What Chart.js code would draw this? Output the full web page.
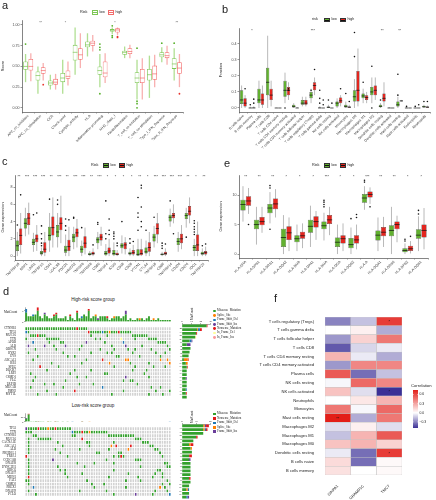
<!DOCTYPE html>
<html>
<head>
<meta charset="utf-8">
<script src="https://cdn.jsdelivr.net/npm/chart.js@4.4.0/dist/chart.umd.min.js"></script>
<style>
body{margin:0;background:#fff;font-family:'Liberation Sans',Arial,sans-serif;}
#wrap{position:relative;width:436px;height:500px;overflow:hidden;background:#fff;}
canvas,.t,.k{position:absolute;}
.t{white-space:nowrap;color:#222;line-height:1;}
.k{box-sizing:border-box;}
</style>
</head>
<body>
<div id="wrap">
<canvas id="ca" width="218" height="145" style="left:0;top:0"></canvas>
<canvas id="cb" width="218" height="160" style="left:218px;top:0"></canvas>
<canvas id="cc" width="218" height="145" style="left:0;top:145px"></canvas>
<canvas id="ce" width="218" height="145" style="left:218px;top:145px"></canvas>
<canvas id="hiT" width="182" height="19" style="left:0;top:305px"></canvas>
<canvas id="hiG" width="182" height="75" style="left:0;top:324px"></canvas>
<canvas id="hiC" width="32" height="94" style="left:180px;top:305px"></canvas>
<canvas id="loT" width="182" height="13" style="left:0;top:411px"></canvas>
<canvas id="loG" width="182" height="75" style="left:0;top:424px"></canvas>
<canvas id="loC" width="32" height="88" style="left:180px;top:411px"></canvas>
<canvas id="cf" width="218" height="210" style="left:218px;top:290px"></canvas>
</div>
<script>
// ---------- a: immune function scores ----------
const aLabels = ['APC_co_inhibition','APC_co_stimulation','CCR','Check-point','Cytolytic_activity','HLA','Inflammation-promoting','MHC_class_I','Parainflammation','T_cell_co-inhibition','T_cell_co-stimulation','Type_I_IFN_Reponse','Type_II_IFN_Reponse'];
// [min, q1, median, q3, max]
const aLow = [[0.31,0.46,0.50,0.56,0.65],[0.17,0.33,0.39,0.44,0.50],[0.22,0.27,0.30,0.33,0.40],[0.17,0.31,0.36,0.42,0.58],[0.40,0.57,0.67,0.76,0.97],[0.62,0.73,0.76,0.80,0.90],[0.25,0.40,0.45,0.50,0.65],[0.89,0.92,0.93,0.95,0.97],[0.60,0.64,0.67,0.69,0.74],[0.10,0.30,0.36,0.43,0.58],[0.12,0.33,0.40,0.47,0.63],[0.55,0.61,0.64,0.67,0.73],[0.33,0.47,0.53,0.60,0.72]];
const aHigh = [[0.32,0.45,0.50,0.59,0.66],[0.33,0.41,0.45,0.49,0.54],[0.22,0.28,0.31,0.35,0.41],[0.27,0.35,0.38,0.45,0.56],[0.48,0.58,0.64,0.72,0.90],[0.68,0.75,0.78,0.81,0.88],[0.30,0.37,0.42,0.56,0.66],[0.88,0.91,0.94,0.96,0.97],[0.60,0.65,0.68,0.72,0.76],[0.10,0.30,0.36,0.47,0.60],[0.25,0.34,0.41,0.51,0.64],[0.52,0.60,0.63,0.67,0.75],[0.25,0.41,0.48,0.55,0.65]];
const aLowOut = [[0.77],[],[],[],[],[],[0.17,0.70,0.73,0.77],[0.85,0.87,0.99],[],[0.0,0.05,0.08,0.72],[],[0.78],[0.78]];
const aHighOut = [[],[0.28],[],[],[],[],[],[0.85,0.86],[],[],[],[],[0.17]];
const aStars = ['','**','','*','','','','*','','','','','**'];
const aTicks = [0,0.25,0.5,0.75,1];

// ---------- b: immune cell fractions ----------
const bLabels = ['B cells naive','B cells memory','Plasma cells','T cells CD8','T cells CD4 naive','T cells CD4 memory resting','T cells CD4 memory activated','T cells follicular helper','T cells regulatory (Tregs)','T cells gamma delta','NK cells resting','NK cells activated','Monocytes','Macrophages M0','Macrophages M1','Macrophages M2','Dendritic cells resting','Dendritic cells activated','Mast cells resting','Mast cells activated','Eosinophils','Neutrophils'];
const bLow = [[0,0.025,0.05,0.11,0.14],[0,0,0,0.003,0.008],[0,0.03,0.05,0.12,0.17],[0,0.08,0.16,0.25,0.45],[0,0,0,0.001,0.002],[0.03,0.07,0.11,0.17,0.22],[0,0.003,0.01,0.02,0.03],[0.01,0.02,0.03,0.05,0.07],[0.03,0.06,0.08,0.10,0.12],[0,0,0,0.004,0.01],[0,0,0.004,0.01,0.02],[0,0.01,0.03,0.04,0.06],[0,0.003,0.01,0.02,0.04],[0,0.04,0.07,0.11,0.18],[0.03,0.06,0.075,0.09,0.12],[0.03,0.08,0.10,0.13,0.19],[0,0.005,0.01,0.02,0.03],[0,0,0,0.003,0.005],[0,0.01,0.02,0.04,0.07],[0,0,0,0,0.004],[0,0,0,0,0],[0,0.003,0.008,0.014,0.02]];
const bHigh = [[0,0.01,0.03,0.06,0.08],[0,0,0,0.004,0.01],[0,0.02,0.05,0.09,0.14],[0.01,0.05,0.08,0.12,0.17],[0,0,0,0,0],[0.05,0.08,0.11,0.13,0.16],[0,0,0,0.003,0.005],[0.01,0.02,0.03,0.05,0.07],[0.08,0.11,0.14,0.16,0.19],[0,0,0,0,0],[0,0,0,0,0],[0.01,0.03,0.045,0.065,0.08],[0,0,0.005,0.01,0.02],[0.01,0.04,0.11,0.23,0.37],[0.03,0.05,0.065,0.08,0.10],[0.05,0.08,0.11,0.14,0.19],[0.01,0.04,0.06,0.09,0.16],[0,0,0,0,0],[0.04,0.04,0.045,0.045,0.05],[0,0,0,0,0],[0,0,0,0,0],[0,0,0.005,0.01,0.015]];
const bLowOut = [[],[0.02],[],[],[],[0.0],[],[],[0.11],[0.11,0.06,0.03],[0.05],[],[0.09],[0.32,0.47],[0.16],[0.26,0.0],[0.05],[],[0.21,0.08],[0.01],[0.01],[0.04]];
const bHighOut = [[0.12],[0.03,0.055],[],[],[],[0.11,0.12],[],[],[0.24],[0.05,0.02],[0.03],[0.12],[0.04],[],[],[],[],[],[],[],[0.02],[0.04]];
const bStars = ['','*','','','','','','','***','','','','','','','','**','','**','','',''];
const bTicks = [0,0.1,0.2,0.3,0.4];

// ---------- c: immune checkpoint genes ----------
const cLabels = ['TNFRSF18','NRP1','LAIR1','TNFSF15','CD44','LGALS9','PDCD1','HAVCR2','TNFSF9','TNFRSF8','CD86','TNFSF4','ICOS','CD48','CD28','VTCN1','CTLA4','TNFSF18','CD80','TNFRSF14','CD200','CD276','IDO1','TNFRSF25'];
const cLow = [[0,0.6,1.2,1.8,2.8],[2.3,3.2,3.8,4.4,5.6],[0.5,1.3,1.6,2.0,2.7],[0,0.2,0.35,0.6,1.0],[0.5,1.8,2.4,3.4,5.0],[1.0,2.2,2.8,3.6,5.0],[0,0.4,0.7,1.2,2.5],[0.8,1.6,2.2,2.6,3.4],[0,0.4,0.8,1.2,1.8],[0,0.1,0.2,0.4,0.6],[0.8,1.5,1.9,2.2,2.8],[0,0.1,0.3,0.6,1.4],[0,0.1,0.3,0.7,1.6],[0.3,0.9,1.2,1.5,2.4],[0,0.15,0.3,0.5,0.9],[0,0.05,0.2,0.8,2.0],[0,0.3,0.5,1.0,1.8],[1.0,1.7,2.2,2.6,3.5],[0,0.1,0.2,0.3,0.5],[3.4,4.0,4.5,4.8,5.5],[0.5,1.3,1.7,2.1,2.8],[3.3,4.3,4.7,5.0,5.6],[0,0.6,1.0,1.3,2.0],[0,0.15,0.3,0.5,0.9]];
const cHigh = [[0.3,1.3,2.4,3.2,5.0],[2.5,3.6,4.4,5.0,6.2],[0.6,1.6,2.0,2.5,3.6],[0,0.4,0.8,1.6,2.8],[1.0,2.4,3.3,4.6,6.8],[1.5,3.0,3.8,4.5,7.0],[0,0.6,1.1,1.9,3.4],[1.0,2.2,2.7,3.2,4.3],[0.2,0.9,1.5,2.3,3.3],[0,0.15,0.3,0.5,0.9],[1.2,1.8,2.2,2.6,3.4],[0,0.3,0.6,1.0,2.0],[0,0.1,0.2,0.4,0.7],[0.2,0.8,1.3,1.6,2.2],[0,0.2,0.4,0.7,1.3],[0,0.1,0.3,0.8,2.0],[0,0.5,1.0,1.6,2.8],[1.5,2.5,3.2,3.8,5.0],[0,0.15,0.3,0.5,0.9],[3.8,4.4,4.7,5.0,6.0],[0.8,1.5,2.0,2.6,3.6],[3.8,4.7,5.2,5.8,6.8],[0,0.6,1.3,2.5,4.0],[0,0.2,0.4,0.6,1.1]];
const cLowOut = [[3.6],[],[4.8],[1.2,1.5,2.0,2.6,3.5],[6.6],[6.0,6.5],[3.0,3.5,4.3],[4.4,4.5],[3.3],[],[3.7,3.9],[2.0,2.6,6.4],[2.0,2.3,2.6,2.8],[4.0],[1.5,2.0],[3.0,4.5,5.0,6.8],[3.0],[4.5],[0.9,1.2,1.5],[6.4],[],[2.2],[2.5,2.8,3.1,3.4,3.8,4.1],[1.2]];
const cHighOut = [[7.1],[],[5.0],[],[],[],[4.2],[],[],[1.3],[],[2.5,3.0,4.3],[1.2,1.5],[],[1.7],[3.4,4.0,5.7,7.9,8.2],[],[],[1.4],[2.6],[],[],[],[1.4]];
const cStars = ['**','***','***','***','**','***','**','***','***','**','***','*','*','*','*','**','*','***','***','***','***','**','*','**'];
const cTicks = [0,2,4,6,8];

// ---------- e: HLA genes ----------
const eLabels = ['HLA-DRA','HLA-DPB1','HLA-DRB1','HLA-DQA2','HLA-DMB','HLA-DPA1','HLA-DMA','HLA-DOA','HLA-DQB2','HLA-A','HLA-DQA1','HLA-DRB6','HLA-DPB2','HLA-DQB1'];
const eLow = [[5.5,7.4,8.4,9.2,11.5],[1.6,4.2,5.0,5.8,8.0],[5.2,6.9,7.8,8.5,10.5],[0,1.2,2.8,4.3,6.6],[0.5,2.0,2.6,3.2,5.0],[1.2,3.6,4.7,5.8,8.2],[2.3,4.2,4.8,5.5,7.0],[0,1.2,2.0,2.8,5.0],[0,1.0,1.6,2.7,4.5],[7.5,8.7,9.5,10.2,11.5],[0.5,2.3,3.2,4.0,6.2],[0,3.0,4.0,4.9,8.0],[0,0.3,0.6,1.0,1.8],[0.5,2.6,3.2,4.2,6.4]];
const eHigh = [[6.8,8.2,9.0,9.8,11.2],[3.6,4.9,5.5,6.3,8.0],[6.2,7.6,8.5,9.4,11.0],[0.5,2.4,3.6,4.7,6.2],[1.0,2.6,3.1,3.8,5.2],[2.4,4.5,5.5,6.4,7.3],[3.2,5.1,5.8,6.6,8.0],[0.5,1.8,2.6,3.2,5.2],[0.8,1.8,2.4,3.2,5.0],[8.5,9.6,10.1,10.6,11.3],[1.2,3.0,3.7,4.6,6.3],[2.0,4.2,5.0,5.5,6.5],[0.1,0.5,0.9,1.4,2.2],[0.8,2.8,4.0,5.0,7.8]];
const eLowOut = [[],[],[11.2,11.6,4.2],[],[],[],[8.0,8.4,8.8,9.1],[],[6.0],[12.2,12.5],[],[],[2.2,2.5],[6.8,7.4]];
const eHighOut = [[5.0],[],[],[],[],[],[],[],[6.2,6.7],[8.0],[],[],[3.0],[]];
const eStars = ['**','**','**','*','*','*','***','*','*','***','**','**','*','*'];
const eTicks = [0,5,10];

// ---------- d: mutation landscape ----------
const mutNames = {M:'Missense_Mutation', S:'Splice_Site', D:'Frame_Shift_Del', I:'Frame_Shift_Ins', N:'Nonsense_Mutation', d:'In_Frame_Del', i:'In_Frame_Ins'};
const hiGenes = ['CTNNB1','TP53','MUC16','TTN','APOB','ALB','OBSCN','RYR2','EYS','ABCA13','RB1','SPEG','DOCK7','LRP2','CSMD1','FLG','LRP1B','MUC5B','FMN2','MYT1L'];
const hiRows = [
  'MMMMMMMMMM MMMMMMMMMM MMNMMMM... .......... .......... .......... ...',
  'DM........ .......... .......NMM MMMDMMSMMM NMMMMM.... .......... ...',
  '..MMMNMMM. .......... ........M. .....M.... ......MMMM MMM....... ...',
  'M........M MMMMM..... .......... M.M....... .d.....M.. ...MMMM... ...',
  '...D...... M....MM... ......I... ....M..... ..D....... .......MMM M..',
  '.I......I. ..M....I.. ....M..... .......M.. ...I...... M......... .M.',
  '....M..... ...M...... ...M...... ..M.....M. ....M..M.. ....M..... ..M',
  '.M........ ......M... ........M. .....M.M.. ......M... ......M... M..',
  '.....M.... ........M. .M........ .........M M........M ........M. ...',
  '...M...... .......... ......M... ...N...... ...SS..... ........S. .S.',
  '.......... .M........ ....M..... ......S... .....M.... ...M...... ..S',
  '......N... ....M..... .......... ........M. .......M.. .....M.... M..',
  '.........M .......... .M......M. .......... ......M... ..M....... ...',
  '..M....... .........M .......... ....MM.... .......... .M........ ...',
  '....M..... .......... ..M...M... .......... ...I...... ...M...... ...',
  '...M...... .......M.. .......... .......... ..M..MM... .......... ...',
  '........M. ..M....... ...M.....M .......... ........M. .......... ...',
  '..M....... ......M... .......... ...D...... .......... ....M...M. ...',
  '.........M .......... .N........ .......... ..M....... ......M... ..M',
  '.....M.... ...M...... .......... .......M.. .......... ...M.....M ...'
];
const hiTmbMis = [5,3,3,3,4,6,3,2,4,3, 2,2,3,4,2,2,2,3,1,3, 2,1,5,2,2,4,3,6,2,3, 3,1,3,3,3,2,1,2,2,3, 3,2,3,4,1,2,1,1,2,1, 2,1,2,3,1,1,1,2,1,1, 1,1,1];
const hiTmbOther = [2,0,0,1,0,2,0,0,1,0, 0,0,1,1,0,0,0,0,0,1, 0,0,1,0,1,0,0,1,0,0, 1,1,0,0,0,1,0,0,1,0, 0,0,0,2,0,0,0,0,0,1, 0,0,0,0,0,1,0,0,0,0, 0,0,0];
const hiTmbType = 'DNNDNNNNIN NNNNNNNNNN NNNNDNNNNN SINNNNNNSN NNNINNNNNS NNNNNSNNNN NNN';
const hiLegend = ['M','S','D','I','N','d','i'];

const loGenes = ['TP53','TTN','CTNNB1','MUC16','CACNA1E','ABCA13','ALB','PKHD1L1','TRPA1','CCDC168','DNAH8','DYNC2H1','BIRC6','DNAH7','MDN1','FAT3','CSMD2','PREX2','DNAH9','PCLO'];
const loRows = [
  'IMMMMNMMMS MMNMMMMMM. .......... .......... .......... ..........',
  'MMM....... .........D MMMNMMSMMM MMMM...... .......... ..........',
  '...MM..... .........M M......... ....MMMMMM MMMMM..... ..........',
  '.M...MMMMM M......... ...N...... .......... .....MMM.. ..........',
  '.M........ ...M...... .....MM... ......M... ........MM M.........',
  '.M........ .....M.... ......M... .....S.N.. ...N...... .MM.......',
  '.M........ ..M....... ..M....... ....M..... ..S....... ...MM.....',
  '.M........ ....M..... .........M M.......MM .......... .....M....',
  'N......... .......M.. .......... ......M.MN M......... ......M...',
  '.M........ .I........ .......... ...M...... .....MMM.. ..........',
  '.M........ .......... .M......M. ......M... .......... .......MM.',
  '.M........ ...M...... ....M..... .......... .......M.. ........MM',
  '.M........ ....M.M... .......... ......M... .......... ....MM....',
  '.M........ ......M... ...M...... .......... ..M....... ...M..M...',
  '.N........ .......M.. .......... ....M..... ......M... ..M...M...',
  'MM........ .......... .....M.... .......... .M.....M.. ........M.',
  '.M........ .......... .......M.. ..M....... .......... ......M..M',
  '...D...... .......... ........M. .......... .M........ .....S.M..',
  '.M........ .......... ..M....... ...M...... .......... ...M....M.',
  '....M..... .......... .......... ......M... .....I.... ..M......D'
];
const loTmbMis = [13,31,2,2,3,2,2,2,1,2, 2,1,2,2,1,2,1,2,1,1, 1,1,1,2,1,1,1,1,1,1, 1,1,1,1,1,1,1,1,1,1, 1,1,1,1,1,1,1,1,1,1, 1,1,1,1,1,1,1,1,1,1];
const loTmbOther = [3,3,0,0,0,1,0,0,0,1, 0,0,1,0,0,0,0,0,0,1, 0,0,0,1,0,0,1,0,0,0, 0,0,0,0,0,0,0,0,0,0, 0,0,0,0,0,0,0,0,0,0, 0,0,0,0,0,0,0,0,0,1];
const loTmbType = 'INNNNNNNNS NNNNNNNNND NNNNNNSNNN NNNNNNNNNN NNNNNNNNNN NNNNNNNNND';
const loLegend = ['M','N','D','S','I'];

// ---------- f: correlation heatmap ----------
const fRows = ['T cells regulatory (Tregs)','T cells gamma delta','T cells follicular helper','T cells CD8','T cells CD4 memory resting','T cells CD4 memory activated','Plasma cells','NK cells resting','NK cells activated','Neutrophils','Monocytes','Mast cells resting','Macrophages M2','Macrophages M1','Macrophages M0','Dendritic cells resting','B cells naive','B cells memory'];
const fGenes = ['GINPA1','GRAMD1C','TMC7'];
const fCorr1 = [-0.30,0.00,-0.25,-0.40,0.25,-0.25,0.55,-0.02,0.20,0.00,0.45,0.75,-0.08,-0.15,0.20,-0.05,0.12,0.10];
const fCorr2 = [-0.15,0.05,0.15,-0.10,-0.05,0.40,-0.35,0.50,-0.08,0.08,-0.02,-0.20,0.05,0.25,0.25,-0.35,-0.35,0.00];
const fCorr3 = [0.65,-0.20,0.45,-0.05,-0.20,0.40,-0.15,0.40,-0.50,0.25,0.50,0.45,-0.08,0.55,0.15,0.65,0.02,0.02];
const fStars1 = ['','','','','','','','','','','','**','','','','','',''];
const fStars2 = ['','','','','','','','','','','','','','','','','',''];
const fStars3 = ['*','','','','','','','','*','','','','','','','*','',''];
const fLegendTicks = [0.6,0.3,0,-0.3];

// ================= drawing =================
const SANS = "'Liberation Sans', Arial, sans-serif";
const SERIF = "'Liberation Serif', 'Times New Roman', serif";
Chart.defaults.font.family = SANS;
Chart.defaults.font.size = 3.6;
Chart.defaults.color = '#333';
Chart.defaults.animation = false;
Chart.defaults.responsive = false;
Chart.defaults.events = [];
Chart.defaults.plugins.legend.display = false;
Chart.defaults.plugins.tooltip.enabled = false;

const wrap = document.getElementById('wrap');
function label(text, x, y, size, style) {
  const d = document.createElement('div');
  d.className = 't';
  d.textContent = text;
  d.style.left = x + 'px';
  d.style.top = y + 'px';
  d.style.fontSize = size + 'px';
  Object.assign(d.style, style || {});
  wrap.appendChild(d);
  return d;
}
function key(x, y, w, h, fill, edge, line) {
  const k = document.createElement('div');
  k.className = 'k';
  Object.assign(k.style, {left:x+'px', top:y+'px', width:w+'px', height:h+'px', background:fill, border:'0.6px solid '+edge});
  const m = document.createElement('div');
  Object.assign(m.style, {position:'absolute', left:0, right:0, top:(h/2-1)+'px', height:'0.6px', background:line});
  k.appendChild(m);
  wrap.appendChild(k);
}

const GREEN = '#62b130', RED = '#e3261f';

const boxPlugin = {
  id: 'boxplot',
  beforeDatasetsDraw(chart) {
    const ctx = chart.ctx, y = chart.scales.y;
    chart.data.datasets.forEach((ds, di) => {
      chart.getDatasetMeta(di).data.forEach((bar, i) => {
        const s = ds.stats[i];
        ctx.save();
        ctx.strokeStyle = ds.whisk;
        ctx.lineWidth = ds.whiskW;
        ctx.beginPath();
        ctx.moveTo(bar.x, y.getPixelForValue(s[0]));
        ctx.lineTo(bar.x, y.getPixelForValue(s[4]));
        ctx.stroke();
        ctx.restore();
      });
    });
  },
  afterDatasetsDraw(chart, args, opts) {
    const ctx = chart.ctx, x = chart.scales.x, y = chart.scales.y;
    chart.data.datasets.forEach((ds, di) => {
      chart.getDatasetMeta(di).data.forEach((bar, i) => {
        const s = ds.stats[i];
        const ym = y.getPixelForValue(s[2]);
        ctx.save();
        ctx.strokeStyle = ds.med;
        ctx.lineWidth = 0.7;
        ctx.beginPath();
        ctx.moveTo(bar.x - bar.width / 2, ym);
        ctx.lineTo(bar.x + bar.width / 2, ym);
        ctx.stroke();
        ctx.fillStyle = ds.outCol;
        ds.outs[i].forEach(v => {
          ctx.beginPath();
          ctx.arc(bar.x, y.getPixelForValue(v), ds.outR, 0, Math.PI * 2);
          ctx.fill();
        });
        ctx.restore();
      });
    });
    ctx.save();
    ctx.fillStyle = opts.starColor;
    ctx.font = '3.6px ' + SANS;
    ctx.textAlign = 'center';
    ctx.textBaseline = 'middle';
    opts.stars.forEach((s, i) => ctx.fillText(s, x.getPixelForTick(i), y.getPixelForValue(opts.starAt)));
    ctx.restore();
  }
};

function boxChart(id, o) {
  const el = document.getElementById(id);
  const W = el.width;
  const mk = (stats, outs, st) => Object.assign({
    data: stats.map(s => [s[1], s[3]]),
    stats, outs,
    borderWidth: o.bw, borderSkipped: false,
    barPercentage: o.barPct, categoryPercentage: o.catPct
  }, st);
  new Chart(el, {
    type: 'bar',
    data: {labels: o.labels, datasets: [mk(o.low, o.lowOut, o.lowStyle), mk(o.high, o.highOut, o.highStyle)]},
    options: {
      layout: {padding: {top: o.area[1], right: W - o.area[2], left: 0, bottom: 0}},
      scales: {
        x: {
          grid: {drawOnChartArea: false, tickLength: 1.5, color: '#333', lineWidth: 0.5},
          border: {color: '#333', width: 0.6},
          ticks: {autoSkip: false, maxRotation: 45, minRotation: 45, padding: 0.5, font: {size: 3.5}, color: '#333'},
          afterFit: s => { s.height = o.xH; }
        },
        y: {
          min: o.yMin, max: o.yMax,
          grid: {drawOnChartArea: false, tickLength: 1.5, color: '#333', lineWidth: 0.5},
          border: {color: '#333', width: 0.6},
          afterBuildTicks: s => { s.ticks = o.yTicks.map(v => ({value: v})); },
          ticks: {padding: 1, font: {size: 3.6}, color: '#444', callback: v => v.toFixed(o.dec)},
          title: {display: true, text: o.yTitle, font: {size: 4}, color: '#222', padding: 0},
          afterFit: s => { s.width = o.area[0]; }
        }
      },
      plugins: {boxplot: {stars: o.stars, starAt: o.starAt, starColor: o.starColor}}
    },
    plugins: [boxPlugin]
  });
}

const openLow = {backgroundColor: '#fff', borderColor: '#7cc654', whisk: 'rgba(150,212,110,0.75)', whiskW: 1.3, med: '#7cc654', outCol: '#57b02b', outR: 0.9};
const openHigh = {backgroundColor: '#fff', borderColor: '#f26b6b', whisk: 'rgba(246,150,150,0.75)', whiskW: 1.3, med: '#f26b6b', outCol: '#e8302a', outR: 0.9};
const fillLow = {backgroundColor: GREEN, borderColor: '#333', whisk: '#8a8a8a', whiskW: 0.6, med: '#111', outCol: '#111', outR: 0.8};
const fillHigh = {backgroundColor: RED, borderColor: '#333', whisk: '#8a8a8a', whiskW: 0.6, med: '#111', outCol: '#111', outR: 0.8};

boxChart('ca', {labels: aLabels, low: aLow, high: aHigh, lowOut: aLowOut, highOut: aHighOut, stars: aStars, starAt: 1.025, starColor: '#555',
  area: [22, 20, 183], xH: 33, yMin: -0.05, yMax: 1.06, yTicks: aTicks, dec: 2, yTitle: 'Score',
  bw: 0.8, barPct: 0.9, catPct: 0.85, lowStyle: openLow, highStyle: openHigh});
boxChart('cb', {labels: bLabels, low: bLow, high: bHigh, lowOut: bLowOut, highOut: bHighOut, stars: bStars, starAt: 0.48, starColor: '#222',
  area: [21, 28, 212], xH: 48, yMin: -0.025, yMax: 0.498, yTicks: bTicks, dec: 1, yTitle: 'Fraction',
  bw: 0.5, barPct: 0.95, catPct: 0.8, lowStyle: fillLow, highStyle: fillHigh});
boxChart('cc', {labels: cLabels, low: cLow, high: cHigh, lowOut: cLowOut, highOut: cHighOut, stars: cStars, starAt: 9.15, starColor: '#222',
  area: [15, 30, 208], xH: 30, yMin: -0.45, yMax: 9.4, yTicks: cTicks, dec: 0, yTitle: 'Gene expression',
  bw: 0.5, barPct: 0.95, catPct: 0.82, lowStyle: fillLow, highStyle: fillHigh});
boxChart('ce', {labels: eLabels, low: eLow, high: eHigh, lowOut: eLowOut, highOut: eHighOut, stars: eStars, starAt: 13.05, starColor: '#222',
  area: [21, 30, 210], xH: 32, yMin: -0.67, yMax: 13.4, yTicks: eTicks, dec: 0, yTitle: 'Gene expression',
  bw: 0.5, barPct: 0.95, catPct: 0.82, lowStyle: fillLow, highStyle: fillHigh});

// legends of the box panels
function riskLegend(x, y, title, lowK, highK, open) {
  label(title, x, y, 3.8);
  key(x + 12, y - 0.5, 6, 4.5, open ? '#fff' : GREEN, open ? '#7cc654' : '#333', open ? '#7cc654' : '#111');
  label('low', x + 19.5, y, 3.6);
  key(x + 28, y - 0.5, 6, 4.5, open ? '#fff' : RED, open ? '#f26b6b' : '#333', open ? '#f26b6b' : '#111');
  label('high', x + 35.5, y, 3.6);
}
riskLegend(80, 10.5, 'Risk', null, null, true);
riskLegend(312, 18, 'risk', null, null, false);
riskLegend(91, 163.5, 'Risk', null, null, false);
riskLegend(312, 163.5, 'Risk', null, null, false);

// ---------- oncoplots ----------
const MUT = {M: '#33a02c', S: '#ff7f00', D: '#1f78b4', I: '#6a3d9a', N: '#e31a1c', d: '#ffff99', i: '#fb9a99'};
const CELL = '#d3d3d3';

function oncoplot(o) {
  const rows = o.rows.map(r => r.replace(/ /g, ''));
  const N = rows[0].length;
  const samples = rows[0].split('').map((_, i) => 'S' + (i + 1));
  const typ = o.tmbType.replace(/ /g, '');
  const pct = rows.map(r => (r.split('').filter(c => c !== '.').length / N * 100).toFixed(1) + '%');

  new Chart(document.getElementById(o.id + 'T'), {
    type: 'bar',
    data: {labels: samples, datasets: [
      {data: o.tmbMis, backgroundColor: MUT.M, barPercentage: 0.8, categoryPercentage: 1},
      {data: o.tmbOther, backgroundColor: typ.split('').map(c => MUT[c]), barPercentage: 0.8, categoryPercentage: 1}
    ]},
    options: {
      layout: {padding: {right: 11, top: 0.5}},
      scales: {
        x: {stacked: true, display: false},
        y: {stacked: true, min: 0, max: o.tmbMax, grid: {drawOnChartArea: false, tickLength: 1, color: '#333', lineWidth: 0.4},
          border: {color: '#333', width: 0.4},
          afterBuildTicks: s => { s.ticks = o.tmbTicks.map(v => ({value: v})); },
          ticks: {padding: 0.5, font: {size: 2.8, family: SERIF}, color: '#333'},
          afterFit: s => { s.width = 25; }}
      }
    }
  });

  new Chart(document.getElementById(o.id + 'G'), {
    type: 'bar',
    data: {labels: samples, datasets: o.genes.map((g, r) => ({
      label: g, yAxisID: 'y',
      data: rows[r].split('').map(() => 1),
      backgroundColor: rows[r].split('').map(c => MUT[c] || CELL),
      borderColor: '#fff', borderWidth: {top: 0.35, bottom: 0.35, left: 0, right: 0}, borderSkipped: false,
      barPercentage: 0.8, categoryPercentage: 1
    }))},
    options: {
      scales: {
        x: {stacked: true, display: false},
        y: {stacked: true, min: 0, max: o.genes.length, reverse: true, grid: {display: false}, border: {display: false},
          afterBuildTicks: s => { s.ticks = o.genes.map((g, r) => ({value: r + 0.5})); },
          ticks: {autoSkip: false, padding: 1, font: {size: 3.1, family: SERIF}, color: '#222', callback: (v, i) => o.genes[i]},
          afterFit: s => { s.width = 25; }},
        yp: {position: 'right', min: 0, max: o.genes.length, reverse: true, grid: {display: false}, border: {display: false},
          afterBuildTicks: s => { s.ticks = o.genes.map((g, r) => ({value: r + 0.5})); },
          ticks: {autoSkip: false, padding: 0.5, font: {size: 2.9, family: SERIF}, color: '#222', callback: (v, i) => pct[i]},
          afterFit: s => { s.width = 11; }}
      }
    }
  });

  new Chart(document.getElementById(o.id + 'C'), {
    type: 'bar',
    data: {labels: o.genes, datasets: Object.keys(MUT).map(t => ({
      data: rows.map(r => r.split('').filter(c => c === t).length),
      backgroundColor: MUT[t], barPercentage: 0.72, categoryPercentage: 1
    }))},
    options: {
      indexAxis: 'y',
      layout: {padding: {left: 2, right: 1}},
      scales: {
        x: {stacked: true, position: 'top', min: 0, max: o.cMax,
          grid: {drawOnChartArea: false, tickLength: 1, color: '#333', lineWidth: 0.4},
          border: {color: '#333', width: 0.4},
          afterBuildTicks: s => { s.ticks = o.cTicks.map(v => ({value: v})); },
          ticks: {padding: 0.3, maxRotation: 0, font: {size: 2.8, family: SERIF}, color: '#333'},
          afterFit: s => { s.height = o.cTop; }},
        y: {stacked: true, display: false}
      }
    }
  });

  label(o.title, 93, o.titleY, 4.6, {transform: 'translateX(-50%)'});
  label('MutCount', 4, o.mcY, 3.2, {fontFamily: SERIF});
  label('MutCount', 191, o.vY, 3, {fontFamily: SERIF, transform: 'rotate(-90deg)', transformOrigin: 'left top'});
  o.legend.forEach((t, j) => {
    const y = o.legY + j * 4.4;
    const dot = document.createElement('div');
    dot.className = 'k';
    Object.assign(dot.style, {left: '213px', top: (y - 1.3) + 'px', width: '2.8px', height: '2.8px', background: MUT[t], borderRadius: o.round ? '50%' : '0'});
    wrap.appendChild(dot);
    label(mutNames[t], 217, y - 1.6, 3, {fontFamily: SERIF});
  });
}

oncoplot({id: 'hi', genes: hiGenes, rows: hiRows, tmbMis: hiTmbMis, tmbOther: hiTmbOther, tmbType: hiTmbType,
  tmbMax: 8, tmbTicks: [0, 2, 4, 6, 8], cMax: 30, cTicks: [0, 10, 20, 30], cTop: 19,
  title: 'High-risk score group', titleY: 298, mcY: 311, vY: 320, legend: hiLegend, legY: 311, round: true});
oncoplot({id: 'lo', genes: loGenes, rows: loRows, tmbMis: loTmbMis, tmbOther: loTmbOther, tmbType: loTmbType,
  tmbMax: 36, tmbTicks: [0, 10, 20, 30], cMax: 20, cTicks: [0, 10, 20], cTop: 13,
  title: 'Low-risk score group', titleY: 404, mcY: 414, vY: 423, legend: loLegend, legY: 414, round: false});

// ---------- heatmap ----------
const LO = [59, 48, 150], HI = [227, 30, 24];
function corrColor(v) {
  const t = v < 0 ? Math.min(1, -v / 0.5) : Math.min(1, v / 0.75);
  const c = v < 0 ? LO : HI;
  const m = c.map(k => Math.round(255 + (k - 255) * t));
  return 'rgb(' + m.join(',') + ')';
}
const fCols = [fCorr1, fCorr2, fCorr3];
const fStarCols = [fStars1, fStars2, fStars3];

const heatPlugin = {
  id: 'heat',
  afterDatasetsDraw(chart) {
    const ctx = chart.ctx;
    ctx.save();
    ctx.fillStyle = '#111';
    ctx.font = '4px ' + SANS;
    ctx.textAlign = 'center';
    ctx.textBaseline = 'middle';
    fStarCols.forEach((col, c) => {
      chart.getDatasetMeta(c).data.forEach((bar, r) => {
        if (col[r]) ctx.fillText(col[r], (bar.x + bar.base) / 2, bar.y + 0.5);
      });
    });
    // colour bar legend
    const x0 = chart.chartArea.right + 11, y0 = 100, y1 = 138, vTop = 0.75, vBot = -0.5;
    const vy = v => y0 + (vTop - v) / (vTop - vBot) * (y1 - y0);
    const g = ctx.createLinearGradient(0, y0, 0, y1);
    for (let s = 0; s <= 20; s++) {
      const v = vTop - (vTop - vBot) * s / 20;
      g.addColorStop(s / 20, corrColor(v));
    }
    ctx.fillStyle = g;
    ctx.fillRect(x0, y0, 5, y1 - y0);
    ctx.fillStyle = '#222';
    ctx.font = '4.2px ' + SANS;
    ctx.textAlign = 'left';
    ctx.fillText('Correlation', x0 - 2, y0 - 4);
    ctx.font = '3.4px ' + SANS;
    ctx.strokeStyle = '#fff';
    ctx.lineWidth = 0.4;
    fLegendTicks.forEach(v => {
      const y = vy(v);
      ctx.beginPath(); ctx.moveTo(x0, y); ctx.lineTo(x0 + 1, y); ctx.moveTo(x0 + 4, y); ctx.lineTo(x0 + 5, y); ctx.stroke();
      ctx.fillText(v === 0 ? '0.0' : (v < 0 ? '\u22120.3' : v.toFixed(1)), x0 + 6.5, y);
    });
    ctx.restore();
  }
};

new Chart(document.getElementById('cf'), {
  type: 'bar',
  data: {labels: fRows, datasets: fCols.map((vals, c) => ({
    label: fGenes[c],
    data: vals.map(() => 1),
    backgroundColor: vals.map(corrColor),
    borderColor: '#c4c4c4', borderWidth: 0.5, borderSkipped: false,
    barPercentage: 1, categoryPercentage: 1
  }))},
  options: {
    indexAxis: 'y',
    layout: {padding: {top: 27, right: 34, left: 0, bottom: 0}},
    scales: {
      x: {stacked: true, min: 0, max: fGenes.length, grid: {display: false}, border: {display: false},
        afterBuildTicks: s => { s.ticks = fGenes.map((g, c) => ({value: c + 0.5})); },
        ticks: {autoSkip: false, maxRotation: 45, minRotation: 45, padding: 1, font: {size: 3.8}, color: '#222', callback: (v, i) => fGenes[i]},
        afterFit: s => { s.height = 25; }},
      y: {stacked: true, grid: {display: false}, border: {display: false},
        ticks: {autoSkip: false, padding: 3, font: {size: 4.1}, color: '#222'},
        afterFit: s => { s.width = 107; }}
    }
  },
  plugins: [heatPlugin]
});

// panel letters
label('a', 2, 0, 11);
label('b', 222, 4, 11);
label('c', 2, 156, 11);
label('e', 224, 158, 11);
label('d', 3, 286, 11);
label('f', 274, 293, 11);
</script>
</body>
</html>
